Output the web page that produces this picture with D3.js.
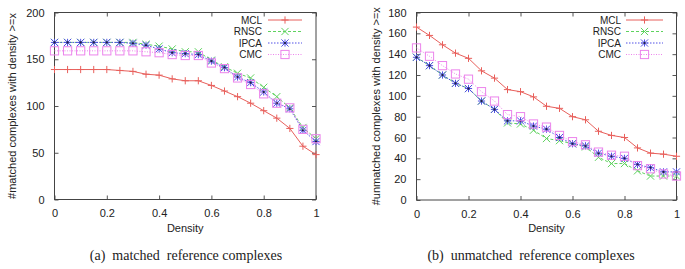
<!DOCTYPE html>
<html><head><meta charset="utf-8">
<script src="https://cdn.jsdelivr.net/npm/d3@7"></script>
<style>
html,body{margin:0;padding:0;background:#fff;}
svg{display:block;}
text{font-family:"Liberation Sans",Arial,sans-serif;fill:#222;}
.cap{font-family:"Liberation Serif","Times New Roman",serif;}
</style></head>
<body>
<svg id="c" width="685" height="269"></svg>
<script>
const density = [0,0.05,0.1,0.15,0.2,0.25,0.3,0.35,0.4,0.45,0.5,0.55,0.6,0.65,0.7,0.75,0.8,0.85,0.9,0.95,1.0];
const seriesNames = ["MCL","RNSC","IPCA","CMC"];
// (a) matched reference complexes
const matchedMCL  = [139,139,139,139,139,138,137,134,133,129,127,127,122,116,110,103,95,87,76,57,48];
const matchedRNSC = [168,168,168,168,168,168,168,166,164,161,158,158,149,142,135,130,120,110,98,77,65];
const matchedIPCA = [168,168,168,168,168,168,167,165,161,157,156,155,148,141,131,125,115,103,97,74,62];
const matchedCMC  = [159,159,159,159,159,159,159,158,157,155,154,154,146,140,130,123,113,103,98,75,65];
// (b) unmatched reference complexes
const unmatchedMCL  = [166,158,149,141,136,124,117,106,104,99,90,88,80,77,66,62,60,50,45,44,42];
const unmatchedRNSC = [137,129,120,112,107,95,87,74,73,67,59,57,54,51,41,35,35,28,23,23,23];
const unmatchedIPCA = [137,129,120,112,107,95,87,76,76,71,68,60,54,52,45,42,40,34,31,27,27];
const unmatchedCMC  = [146,138,129,121,116,104,95,82,80,73,70,62,56,53,46,43,42,33,30,25,23];

const xTicks = [0,0.2,0.4,0.6,0.8,1];
const yTicksA = [0,50,100,150,200];
const yTicksB = [0,20,40,60,80,100,120,140,160,180];

const styles = {
  MCL:  {color:"#e8605c", dash:null,  marker:"plus"},
  RNSC: {color:"#5fd35f", dash:"3,2", marker:"cross"},
  IPCA: {color:"#5050e6", dash:"1.5,1.5", marker:"star"},
  CMC:  {color:"#ec84ec", dash:"1,1.5", marker:"square"}
};

const svg = d3.select("#c");

function drawMarker(g, type, x, y, color){
  const s = 3.6;
  if(type==="plus"){
    g.append("path").attr("d",`M${x-s},${y}H${x+s}M${x},${y-s}V${y+s}`).attr("stroke",color).attr("stroke-width",1).attr("fill","none");
  } else if(type==="cross"){
    g.append("path").attr("d",`M${x-s},${y-s}L${x+s},${y+s}M${x-s},${y+s}L${x+s},${y-s}`).attr("stroke",color).attr("stroke-width",1).attr("fill","none");
  } else if(type==="star"){
    g.append("path").attr("d",`M${x-s},${y-s}L${x+s},${y+s}M${x-s},${y+s}L${x+s},${y-s}M${x-s},${y}H${x+s}M${x},${y-s}V${y+s}`).attr("stroke",color).attr("stroke-width",1).attr("fill","none");
    g.append("circle").attr("cx",x).attr("cy",y).attr("r",1.1).attr("fill","#223");
  } else if(type==="square"){
    g.append("rect").attr("x",x-s-0.5).attr("y",y-s-0.5).attr("width",2*s+1).attr("height",2*s+1).attr("stroke",color).attr("stroke-width",1).attr("fill","none");
  }
}

function chart(opts){
  const {x0,x1,y0,y1,ymax,yTicks,data,ylabel,caption,legendTextX,legendLineX0,legendLineX1,ylabelX} = opts;
  const g = svg.append("g");
  const xs = d3.scaleLinear().domain([0,1]).range([x0,x1]);
  const ys = d3.scaleLinear().domain([0,ymax]).range([y1,y0]);

  const bottom = g.append("g").attr("transform",`translate(0,${y1})`)
    .call(d3.axisBottom(xs).tickValues(xTicks).tickSize(-4).tickPadding(10).tickFormat(d3.format("")));
  const top = g.append("g").attr("transform",`translate(0,${y0})`)
    .call(d3.axisTop(xs).tickValues(xTicks).tickSize(-4).tickFormat(""));
  const left = g.append("g").attr("transform",`translate(${x0},0)`)
    .call(d3.axisLeft(ys).tickValues(yTicks).tickSize(-4).tickPadding(10));
  const right = g.append("g").attr("transform",`translate(${x1},0)`)
    .call(d3.axisRight(ys).tickValues(yTicks).tickSize(-4).tickFormat(""));
  [bottom,top,left,right].forEach(a=>{
    a.select(".domain").remove();
    a.selectAll(".tick line").attr("stroke","#555");
    a.selectAll("text").attr("font-size",11).attr("font-family","Liberation Sans, Arial, sans-serif").attr("fill","#222");
  });
  g.append("rect").attr("x",x0).attr("y",y0).attr("width",x1-x0).attr("height",y1-y0)
    .attr("fill","none").attr("stroke","#444").attr("stroke-width",1);

  data.forEach(([name,vals])=>{
    const st = styles[name];
    const line = d3.line().x((d,i)=>xs(density[i])).y(d=>ys(d));
    g.append("path").datum(vals).attr("d",line).attr("fill","none")
      .attr("stroke",st.color).attr("stroke-width",1).attr("stroke-dasharray",st.dash);
    const mg = g.append("g");
    vals.forEach((v,i)=>drawMarker(mg,st.marker,xs(density[i]),ys(v),st.color));
  });

  seriesNames.forEach((name,i)=>{
    const st = styles[name];
    const ly = 20 + i*11.5;
    g.append("text").attr("x",legendTextX).attr("y",ly).attr("dy","0.35em").attr("text-anchor","end")
      .attr("font-size",10).text(name);
    g.append("line").attr("x1",legendLineX0).attr("x2",legendLineX1).attr("y1",ly).attr("y2",ly)
      .attr("stroke",st.color).attr("stroke-width",1).attr("stroke-dasharray",st.dash);
    drawMarker(g,st.marker,(legendLineX0+legendLineX1)/2,ly,st.color);
  });

  g.append("text").attr("x",(x0+x1)/2).attr("y",228).attr("dy","0.35em").attr("text-anchor","middle")
    .attr("font-size",11).text("Density");
  g.append("text").attr("transform",`translate(${ylabelX},${(y0+y1)/2}) rotate(-90)`).attr("dy","0.35em")
    .attr("text-anchor","middle").attr("font-size",11).text(ylabel);
  g.append("text").attr("class","cap").attr("x",opts.capX).attr("y",255).attr("dy","0.35em")
    .attr("text-anchor","middle").attr("font-size",14).style("white-space","pre").text(caption);
}

chart({x0:54.5,x1:316,y0:12.5,y1:199.5,ymax:200,yTicks:yTicksA,
  data:[["MCL",matchedMCL],["RNSC",matchedRNSC],["IPCA",matchedIPCA],["CMC",matchedCMC]],
  ylabel:"#matched complexes with density >=x", caption:"(a)  matched  reference complexes",
  legendTextX:262, legendLineX0:268, legendLineX1:302, ylabelX:12, capX:186});
chart({x0:416.5,x1:676.5,y0:12.5,y1:200,ymax:180,yTicks:yTicksB,
  data:[["MCL",unmatchedMCL],["RNSC",unmatchedRNSC],["IPCA",unmatchedIPCA],["CMC",unmatchedCMC]],
  ylabel:"#unmatched complexes with density >=x", caption:"(b)  unmatched  reference complexes",
  legendTextX:621, legendLineX0:626, legendLineX1:663, ylabelX:376, capX:531});
</script>
</body></html>
